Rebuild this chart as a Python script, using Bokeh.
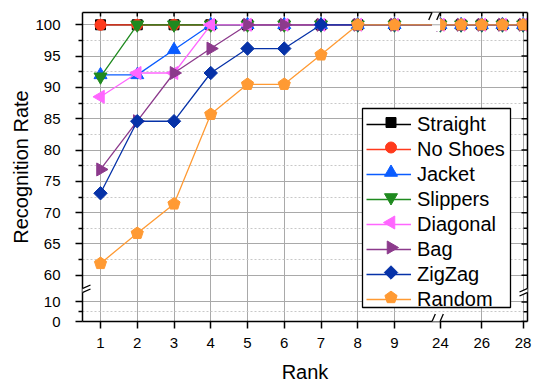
import math
from bokeh.plotting import figure
from bokeh.models import (Range1d, FixedTicker, LinearAxis, Legend, LegendItem,
                          PolyAnnotation, BoxAnnotation, Arrow)
from bokeh.embed import file_html
from bokeh.resources import INLINE

# ---------------- data ----------------
ranks = [1, 2, 3, 4, 5, 6, 7, 8, 9, 24, 25, 26, 27, 28]
straight = [100, 100, 100, 100, 100, 100, 100, 100, 100, 100, 100, 100, 100, 100]
no_shoes = [100, 100, 100, 100, 100, 100, 100, 100, 100, 100, 100, 100, 100, 100]
jacket = [92.0, 92.0, 96.0, 100, 100, 100, 100, 100, 100, 100, 100, 100, 100, 100]
slippers = [91.7, 100, 100, 100, 100, 100, 100, 100, 100, 100, 100, 100, 100, 100]
diagonal = [88.5, 92.3, 92.3, 100, 100, 100, 100, 100, 100, 100, 100, 100, 100, 100]
bag = [76.9, 84.6, 92.3, 96.2, 100, 100, 100, 100, 100, 100, 100, 100, 100, 100]
zigzag = [73.1, 84.6, 84.6, 92.3, 96.2, 96.2, 100, 100, 100, 100, 100, 100, 100, 100]
random_walk = [61.9, 66.7, 71.4, 85.7, 90.5, 90.5, 95.2, 100, 100, 100, 100, 100, 100, 100]

series_names = ["Straight", "No Shoes", "Jacket", "Slippers", "Diagonal", "Bag", "ZigZag", "Random"]

x_tick_labels = [1, 2, 3, 4, 5, 6, 7, 8, 9, 24, 26, 28]
x_grid_values = [1, 2, 3, 4, 5, 6, 7, 8, 9, 26, 28]
y_tick_labels = [0, 10, 60, 65, 70, 75, 80, 85, 90, 95, 100]
y_minor_values = [5, 62.5, 67.5, 72.5, 77.5, 82.5, 87.5, 92.5, 97.5]


# ---------------- broken-axis mapping ----------------
def xmap(x):
    # ranks 1..9 kept linear, ranks 24..28 compressed after the break
    return x if x <= 9 else 10.25 + (x - 24) * 0.5625


def ymap(y):
    # 60..100 linear, 0..10 compressed below the break
    return y if y >= 60 else 52.625 + y * 0.3125


FONT = "Liberation Sans"
W, H = 537, 385
BL, BR, BT, BB = 82, 10, 12, 64          # borders around the frame
FW, FH = W - BL - BR, H - BT - BB         # frame size in px
SX = 36.75                                # px per x unit
X0 = 1 - 18 / SX
X1 = X0 + FW / SX
Y0, Y1 = ymap(0), 101.96
SY = FH / (Y1 - Y0)

p = figure(width=W, height=H, output_backend="svg", toolbar_location=None,
           x_range=Range1d(X0, X1), y_range=Range1d(Y0, Y1),
           min_border_left=BL, min_border_right=BR, min_border_top=BT, min_border_bottom=BB,
           x_axis_label="Rank", y_axis_label="Recognition Rate")
p.outline_line_color = None
p.background_fill_color = "white"
p.border_fill_color = "white"

xt = [xmap(v) for v in x_tick_labels]
yt = [ymap(v) for v in y_tick_labels]
ym = [ymap(v) for v in y_minor_values]

# bottom axis
xa = p.xaxis[0]
xa.ticker = FixedTicker(ticks=xt)
xa.major_label_overrides = {xmap(v): str(v) for v in x_tick_labels}
xa.major_tick_out = 7
xa.major_tick_in = 0
xa.minor_tick_line_color = None
xa.major_label_standoff = 9
xa.axis_label_standoff = 10

# left axis
ya = p.yaxis[0]
ya.ticker = FixedTicker(ticks=yt, minor_ticks=ym)
ya.major_label_overrides = {ymap(v): str(v) for v in y_tick_labels}
ya.major_tick_out = 7
ya.major_tick_in = 0
ya.minor_tick_out = 4
ya.minor_tick_in = 0
ya.major_label_standoff = 15
ya.axis_label_standoff = 0

for ax in (xa, ya):
    ax.axis_line_width = 1.5
    ax.major_tick_line_width = 1.5
    ax.minor_tick_line_width = 1.5
    ax.axis_line_color = "black"
    ax.major_tick_line_color = "black"
    ax.major_label_text_font = FONT
    ax.major_label_text_font_size = "15px"
    ax.major_label_text_color = "black"
    ax.axis_label_text_font = FONT
    ax.axis_label_text_font_size = "20px"
    ax.axis_label_text_font_style = "normal"
    ax.axis_label_text_color = "black"

# top and right frame lines (no labels)
for side in ("above", "right"):
    p.add_layout(LinearAxis(ticker=FixedTicker(ticks=[]), axis_line_width=1.5,
                            axis_line_color="black", major_label_standoff=0), side)

# inward ticks on the top and right edges
p.segment(x0=xt, y0=[Y1] * len(xt), x1=xt, y1=[Y1 - 4 / SY] * len(xt),
          line_color="black", line_width=1.5)
p.segment(x0=[X1] * len(yt), y0=yt, x1=[X1 - 6 / SX] * len(yt), y1=yt,
          line_color="black", line_width=1.5)
p.segment(x0=[X1] * len(ym), y0=ym, x1=[X1 - 4 / SX] * len(ym), y1=ym,
          line_color="black", line_width=1.5)

# grids
p.xgrid.ticker = FixedTicker(ticks=[xmap(v) for v in x_grid_values])
p.ygrid.ticker = FixedTicker(ticks=yt, minor_ticks=ym)
for g in (p.xgrid, p.ygrid):
    g.grid_line_color = "#a9a9a9"
    g.grid_line_width = 1
p.ygrid.minor_grid_line_color = "#c8c8c8"
p.ygrid.minor_grid_line_dash = "2 2"

# ---------------- series ----------------
xs = [xmap(v) for v in ranks]
series = [straight, no_shoes, jacket, slippers, diagonal, bag, zigzag, random_walk]
colors = ["#000000", "#ff3a1c", "#0a5cff", "#1f8a1f", "#ff66ff", "#8c3a8c", "#0632a8", "#ff9a33"]
markers = [("square", 10, 0), ("circle", 11, 0), ("triangle", 13, 0), ("inverted_triangle", 13, 0),
           ("triangle", 13, math.pi / 2), ("triangle", 13, -math.pi / 2), ("square", 9.5, math.pi / 4),
           ("pentagon", 6.4, 0)]


def draw_markers(mx, my, col, mk, sz, ang):
    if mk == "pentagon":
        return p.ngon(x=mx, y=my, radius=sz, radius_units="screen", n=5, angle=ang,
                      fill_color=col, line_color=col)
    return p.scatter(mx, my, marker=mk, size=sz, angle=ang, fill_color=col, line_color=col)


line_renderers = []
for vals, col, (mk, sz, ang) in zip(series, colors, markers):
    ys = [ymap(v) for v in vals]
    line_renderers.append(p.line(xs, ys, line_color=col, line_width=1.3))
    draw_markers(xs, ys, col, mk, sz, ang)

# ---------------- legend ----------------
BOX_L, BOX_B, BOX_W, BOX_H = 280, 14, 148, 199   # legend box, px from frame bottom-left
LEG_X, LEG_Y = 284, 10                            # bokeh legend position
PAD, GW, GH, SP = 2, 45, 24, 1
leg_h = 2 * PAD + len(series_names) * GH + (len(series_names) - 1) * SP

p.quad(left=[X0 + BOX_L / SX], right=[X0 + (BOX_L + BOX_W) / SX],
       bottom=[Y0 + BOX_B / SY], top=[Y0 + (BOX_B + BOX_H) / SY],
       fill_color="white", line_color="black", line_width=1.3)

for i, (col, (mk, sz, ang)) in enumerate(zip(colors, markers)):
    lx = X0 + (LEG_X + PAD + GW / 2) / SX
    ly = Y0 + (LEG_Y + leg_h - PAD - GH / 2 - i * (GH + SP)) / SY
    draw_markers([lx], [ly], col, mk, sz, ang)

legend = Legend(items=[LegendItem(label=n, renderers=[r]) for n, r in zip(series_names, line_renderers)],
                location=(LEG_X, LEG_Y), label_text_font=FONT, label_text_font_size="20px",
                label_text_color="black", glyph_width=GW, glyph_height=GH, label_height=GH,
                spacing=SP, padding=PAD, margin=0, label_standoff=6,
                border_line_color=None, background_fill_alpha=0)
p.add_layout(legend)


# ---------------- axis-break marks ----------------
def add_break(cu, cv, du, dv, su, sv):
    p.add_layout(PolyAnnotation(xs=[cu - du - su, cu + du - su, cu + du + su, cu - du + su],
                                ys=[cv - dv - sv, cv + dv - sv, cv + dv + sv, cv - dv + sv],
                                fill_color="white", fill_alpha=1, line_color=None))
    for s in (-1, 1):
        p.add_layout(Arrow(end=None, x_start=cu - du + s * su, y_start=cv - dv + s * sv,
                           x_end=cu + du + s * su, y_end=cv + dv + s * sv,
                           line_color="black", line_width=1.3))


# gap in the data lines where the x axis is broken
p.add_layout(BoxAnnotation(left=10.02, right=10.24, bottom=99.0, top=101.0,
                           fill_color="white", fill_alpha=1, line_color=None))
p.add_layout(Arrow(end=None, x_start=10.02, y_start=100, x_end=10.24, y_end=100,
                   line_color="#a9a9a9", line_width=1))

UB = 10.13
VB = 57.57
add_break(UB, Y0, 3.3 / SX, 7.5 / SY, 4 / SX, 0)
add_break(UB, Y1, 3.3 / SX, 7.5 / SY, 4 / SX, 0)
add_break(X0, VB, 8 / SX, 3.5 / SY, 0, 2 / SY)
add_break(X1, VB, 8 / SX, 3.5 / SY, 0, 2 / SY)

open("out.html", "w").write(file_html(p, INLINE))
